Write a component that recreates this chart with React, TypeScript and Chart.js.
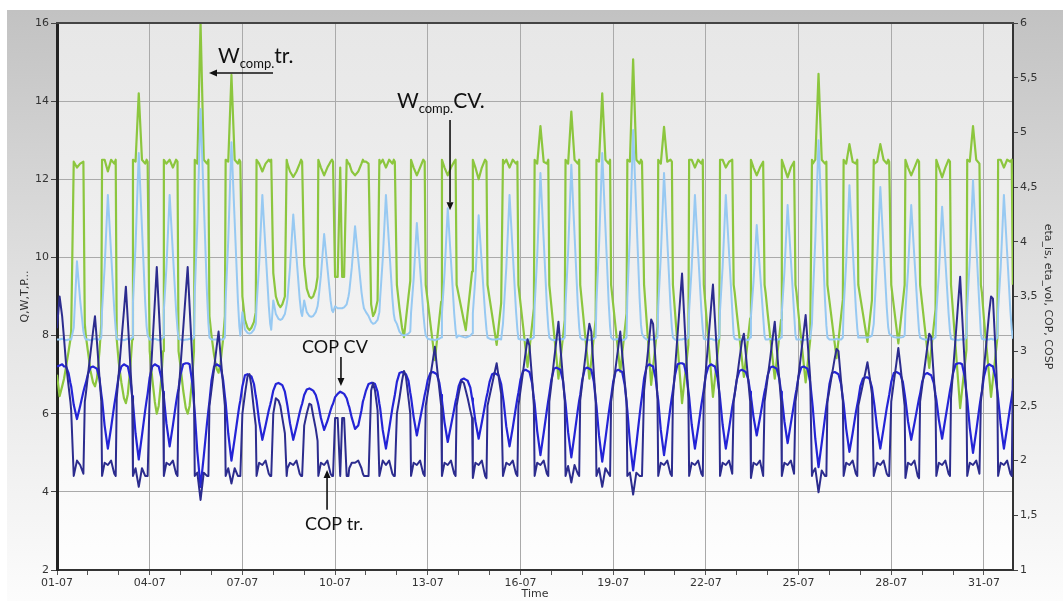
import { useEffect, useRef } from 'react';
import { Chart, registerables } from 'chart.js';

Chart.register(...registerables);

// ---- sampling: every day of July is read at these hours ----
const SAMPLE_HOURS = [0, 2, 4, 5.5, 7, 9, 10.4, 11, 13, 15.5, 18, 20.5, 21.6, 22.4];
const DAY_COUNT = 31;
const X_MAX = 30.94;

// x tick labels (one every 3 days)
const DATE_LABELS = ['01-07', '04-07', '07-07', '10-07', '13-07', '16-07', '19-07', '22-07', '25-07', '28-07', '31-07'];
// right axis tick labels (decimal comma)
const RIGHT_TICK_LABELS = ['1', '1,5', '2', '2,5', '3', '3,5', '4', '4,5', '5', '5,5', '6'];

// W_comp tr. (left axis), one row per day
const W_COMP_TR = [
  7.0, 6.45, 6.7, 6.9, 7.2, 7.6, 7.9, 8.1, 12.45, 12.3, 12.4, 12.45, 8.3, 8.0,
  7.6, 7.1, 6.8, 6.7, 6.9, 7.6, 8.3, 12.5, 12.5, 12.2, 12.5, 12.4, 12.5, 7.9,
  7.3, 6.8, 6.4, 6.27, 6.5, 7.2, 7.9, 12.5, 12.45, 14.2, 12.5, 12.4, 12.5, 12.45,
  7.6, 6.9, 6.3, 6.0, 6.2, 6.9, 7.6, 12.5, 12.4, 12.5, 12.3, 12.5, 12.45, 7.6,
  7.2, 6.6, 6.15, 6.0, 6.2, 6.9, 7.6, 12.5, 12.4, 16.0, 12.5, 12.4, 12.5, 8.5,
  8.0, 7.5, 7.15, 7.05, 7.3, 7.9, 8.5, 12.5, 12.45, 14.67, 12.5, 12.4, 12.5, 12.45,
  9.0, 8.4, 8.2, 8.14, 8.2, 8.35, 8.6, 12.5, 12.4, 12.2, 12.4, 12.5, 12.45, 12.5,
  9.6, 9.0, 8.8, 8.73, 8.8, 9.0, 12.5, 12.4, 12.2, 12.06, 12.2, 12.4, 12.5, 12.45,
  9.8, 9.2, 9.0, 8.96, 9.0, 9.2, 9.5, 12.5, 12.3, 12.1, 12.3, 12.45, 12.5, 12.45,
  9.5, 9.5, 12.3, 9.5, 9.5, 12.5, 12.4, 12.4, 12.2, 12.1, 12.2, 12.4, 12.5, 12.45,
  12.45, 12.4, 8.8, 8.5, 8.6, 8.9, 12.5, 12.4, 12.5, 12.3, 12.5, 12.4, 12.5, 12.45,
  9.3, 8.7, 8.2, 7.96, 8.4, 9.0, 9.4, 12.5, 12.3, 12.1, 12.3, 12.5, 12.45, 9.3,
  8.87, 8.32, 7.78, 7.37, 7.83, 8.44, 8.87, 12.5, 12.3, 12.1, 12.3, 12.45, 12.5, 9.3,
  9.04, 8.71, 8.38, 8.14, 8.6, 9.2, 9.64, 12.5, 12.3, 12.0, 12.3, 12.5, 12.45, 9.3,
  8.95, 8.52, 8.08, 7.76, 8.22, 8.83, 12.5, 12.4, 12.5, 12.3, 12.5, 12.4, 12.45, 9.3,
  8.83, 8.24, 7.64, 7.2, 7.66, 8.27, 8.7, 12.5, 12.4, 13.36, 12.45, 12.4, 12.5, 9.3,
  8.76, 8.08, 7.41, 6.9, 7.36, 7.97, 8.4, 12.5, 12.4, 13.73, 12.5, 12.4, 12.5, 9.3,
  8.76, 8.08, 7.41, 6.9, 7.36, 7.97, 8.4, 12.5, 12.45, 14.2, 12.5, 12.4, 12.5, 9.3,
  8.8, 8.17, 7.54, 7.07, 7.53, 8.14, 8.57, 12.5, 12.45, 15.07, 12.5, 12.4, 12.5, 12.45,
  9.3, 8.37, 7.44, 6.74, 7.2, 7.81, 8.24, 12.5, 12.4, 13.34, 12.45, 12.5, 12.45, 9.3,
  8.62, 7.76, 6.91, 6.27, 6.73, 7.34, 7.77, 12.5, 12.5, 12.3, 12.5, 12.4, 12.5, 9.3,
  8.65, 7.84, 7.04, 6.43, 6.89, 7.5, 7.93, 12.5, 12.5, 12.3, 12.45, 12.5, 9.3, 9.1,
  8.58, 7.99, 7.39, 6.94, 7.4, 8.01, 8.44, 12.5, 12.3, 12.1, 12.3, 12.45, 9.3, 9.1,
  8.57, 7.96, 7.36, 6.9, 7.36, 7.97, 8.4, 12.5, 12.3, 12.05, 12.3, 12.45, 9.3, 9.1,
  8.54, 7.91, 7.28, 6.8, 7.26, 7.87, 12.5, 12.4, 12.5, 14.7, 12.5, 12.4, 12.45, 9.3,
  8.88, 8.35, 7.82, 7.42, 7.88, 8.49, 8.92, 12.5, 12.4, 12.9, 12.45, 12.4, 12.5, 9.3,
  8.97, 8.56, 8.15, 7.84, 8.3, 8.91, 12.5, 12.4, 12.45, 12.9, 12.5, 12.4, 12.5, 12.45,
  9.3, 8.75, 8.21, 7.8, 8.26, 8.87, 9.3, 12.5, 12.3, 12.1, 12.3, 12.5, 12.45, 9.3,
  8.82, 8.22, 7.62, 7.17, 7.63, 8.24, 8.67, 12.5, 12.3, 12.05, 12.3, 12.5, 12.45, 9.3,
  8.59, 7.7, 6.81, 6.14, 6.6, 7.21, 7.64, 12.5, 12.45, 13.36, 12.5, 12.4, 9.3, 9.1,
  8.43, 7.7, 6.98, 6.43, 6.89, 7.5, 7.93, 12.5, 12.5, 12.3, 12.5, 12.45, 12.5, 9.3,
];

// W_comp CV. (left axis)
const W_COMP_CV = [
  7.9, 7.9, 7.92, 7.9, 7.88, 7.9, 7.9, 7.9, 8.2, 9.9, 8.9, 8.1, 7.95, 7.9,
  7.9, 7.88, 7.9, 7.92, 7.9, 7.9, 7.95, 8.64, 9.75, 11.6, 10.12, 8.64, 8.16, 7.92,
  7.9, 7.9, 7.88, 7.9, 7.92, 7.9, 7.95, 8.85, 10.29, 12.67, 10.76, 8.85, 8.23, 8.0,
  7.9, 7.9, 7.92, 7.9, 7.88, 7.9, 7.95, 8.64, 9.75, 11.6, 10.12, 8.64, 8.16, 7.92,
  7.9, 7.88, 7.9, 7.9, 7.92, 7.9, 7.95, 9.08, 10.85, 13.8, 11.44, 9.08, 8.31, 7.95,
  7.9, 7.9, 7.9, 7.92, 7.9, 7.9, 7.95, 8.91, 10.43, 12.95, 10.93, 8.91, 8.25, 8.0,
  8.6, 8.15, 8.07, 8.05, 8.07, 8.15, 8.3, 8.76, 9.83, 11.6, 10.18, 8.76, 8.3, 8.15,
  8.9, 8.55, 8.43, 8.4, 8.43, 8.55, 8.8, 8.94, 9.75, 11.1, 10.02, 8.94, 8.6, 8.5,
  8.9, 8.6, 8.5, 8.48, 8.5, 8.6, 8.75, 8.9, 9.54, 10.6, 9.75, 8.9, 8.65, 8.6,
  8.75, 8.7, 8.7, 8.7, 8.72, 8.8, 9.0, 9.12, 9.75, 10.8, 9.96, 9.12, 8.85, 8.7,
  8.6, 8.5, 8.35, 8.3, 8.32, 8.4, 8.6, 8.96, 9.95, 11.6, 10.28, 8.96, 8.55, 8.4,
  8.3, 8.1, 8.02, 8.0, 8.02, 8.05, 8.1, 8.58, 9.44, 10.88, 9.73, 8.58, 8.2, 8.0,
  7.92, 7.9, 7.9, 7.88, 7.9, 7.92, 7.95, 8.57, 9.58, 11.26, 9.92, 8.57, 8.14, 7.95,
  8.0, 7.98, 7.96, 7.95, 7.97, 8.0, 8.05, 8.57, 9.5, 11.08, 9.8, 8.57, 8.15, 7.95,
  7.92, 7.9, 7.9, 7.9, 7.92, 7.9, 8.3, 8.64, 9.75, 11.6, 10.12, 8.64, 8.16, 7.92,
  7.9, 7.9, 7.88, 7.9, 7.9, 7.92, 7.95, 8.75, 10.03, 12.16, 10.46, 8.75, 8.2, 7.95,
  7.9, 7.88, 7.9, 7.9, 7.92, 7.9, 7.95, 8.79, 10.14, 12.37, 10.58, 8.79, 8.21, 7.95,
  7.9, 7.9, 7.9, 7.88, 7.9, 7.92, 7.95, 8.85, 10.29, 12.67, 10.76, 8.85, 8.23, 7.95,
  7.9, 7.9, 7.92, 7.9, 7.88, 7.9, 7.95, 8.97, 10.58, 13.26, 11.12, 8.97, 8.28, 8.05,
  7.95, 7.9, 7.9, 7.9, 7.9, 7.92, 7.95, 8.75, 10.03, 12.16, 10.46, 8.75, 8.2, 7.95,
  7.9, 7.88, 7.9, 7.9, 7.92, 7.9, 7.95, 8.64, 9.75, 11.6, 10.12, 8.64, 8.16, 7.92,
  7.9, 7.9, 7.92, 7.9, 7.88, 7.9, 7.95, 8.64, 9.75, 11.6, 10.12, 8.64, 8.0, 7.92,
  7.9, 7.9, 7.9, 7.92, 7.9, 7.88, 7.95, 8.49, 9.37, 10.83, 9.66, 8.49, 7.98, 7.9,
  7.9, 7.92, 7.9, 7.9, 7.9, 7.9, 7.95, 8.59, 9.62, 11.34, 9.96, 8.59, 8.0, 7.9,
  7.9, 7.9, 7.88, 7.9, 7.9, 7.92, 8.3, 8.92, 10.45, 13.0, 10.96, 8.92, 8.26, 7.95,
  7.9, 7.9, 7.9, 7.92, 7.9, 7.9, 7.95, 8.69, 9.88, 11.85, 10.27, 8.69, 8.18, 7.95,
  7.95, 7.95, 7.95, 7.95, 7.96, 8.0, 8.3, 8.72, 9.88, 11.8, 10.26, 8.72, 8.22, 8.05,
  8.0, 7.96, 7.95, 7.95, 7.95, 7.96, 8.0, 8.63, 9.65, 11.34, 9.98, 8.63, 8.1, 7.95,
  7.92, 7.9, 7.9, 7.9, 7.9, 7.92, 7.95, 8.58, 9.6, 11.3, 9.94, 8.58, 8.1, 7.92,
  7.9, 7.9, 7.88, 7.9, 7.9, 7.9, 7.95, 8.72, 9.94, 11.98, 10.35, 8.72, 8.05, 7.92,
  7.9, 7.9, 7.9, 7.92, 7.9, 7.9, 7.95, 8.64, 9.75, 11.6, 10.12, 8.64, 8.16, 7.92,
];

// COP CV (right axis)
const COP_CV = [
  2.86, 2.87, 2.88, 2.86, 2.86, 2.8, 2.71, 2.68, 2.51, 2.38, 2.5, 2.63, 2.68, 2.71,
  2.79, 2.85, 2.86, 2.85, 2.84, 2.75, 2.61, 2.56, 2.32, 2.11, 2.3, 2.51, 2.59, 2.65,
  2.78, 2.86, 2.88, 2.87, 2.86, 2.75, 2.59, 2.53, 2.25, 2.01, 2.23, 2.46, 2.55, 2.61,
  2.76, 2.86, 2.88, 2.87, 2.86, 2.76, 2.63, 2.58, 2.34, 2.13, 2.32, 2.53, 2.61, 2.66,
  2.79, 2.88, 2.89, 2.89, 2.88, 2.72, 2.52, 2.44, 2.08, 1.76, 2.04, 2.34, 2.46, 2.54,
  2.73, 2.86, 2.88, 2.87, 2.86, 2.74, 2.59, 2.53, 2.25, 2.0, 2.2, 2.41, 2.5, 2.55,
  2.68, 2.78, 2.79, 2.78, 2.77, 2.7, 2.59, 2.55, 2.36, 2.19, 2.32, 2.46, 2.51, 2.55,
  2.64, 2.7, 2.71, 2.7, 2.69, 2.63, 2.54, 2.5, 2.34, 2.19, 2.31, 2.44, 2.49, 2.52,
  2.6, 2.65, 2.66, 2.65, 2.64, 2.6, 2.54, 2.51, 2.39, 2.28, 2.36, 2.46, 2.5, 2.52,
  2.58, 2.61, 2.63, 2.62, 2.61, 2.57, 2.51, 2.49, 2.39, 2.29, 2.32, 2.46, 2.54, 2.57,
  2.64, 2.7, 2.71, 2.71, 2.7, 2.63, 2.52, 2.48, 2.28, 2.11, 2.29, 2.48, 2.55, 2.6,
  2.72, 2.8, 2.81, 2.8, 2.79, 2.73, 2.62, 2.58, 2.4, 2.23, 2.38, 2.53, 2.6, 2.64,
  2.74, 2.8, 2.81, 2.8, 2.79, 2.71, 2.6, 2.55, 2.35, 2.17, 2.32, 2.47, 2.54, 2.58,
  2.68, 2.74, 2.75, 2.74, 2.73, 2.67, 2.57, 2.53, 2.36, 2.2, 2.35, 2.51, 2.58, 2.62,
  2.72, 2.79, 2.8, 2.79, 2.78, 2.7, 2.58, 2.53, 2.31, 2.13, 2.3, 2.49, 2.57, 2.62,
  2.74, 2.82, 2.83, 2.82, 2.81, 2.71, 2.57, 2.52, 2.27, 2.05, 2.25, 2.46, 2.55, 2.61,
  2.74, 2.84, 2.85, 2.84, 2.83, 2.73, 2.58, 2.52, 2.26, 2.03, 2.24, 2.46, 2.55, 2.6,
  2.74, 2.84, 2.85, 2.84, 2.83, 2.72, 2.56, 2.5, 2.23, 1.99, 2.2, 2.43, 2.52, 2.58,
  2.72, 2.82, 2.83, 2.82, 2.81, 2.69, 2.53, 2.46, 2.17, 1.91, 2.15, 2.41, 2.52, 2.59,
  2.75, 2.86, 2.88, 2.87, 2.86, 2.75, 2.6, 2.55, 2.28, 2.05, 2.26, 2.49, 2.58, 2.64,
  2.78, 2.88, 2.89, 2.89, 2.88, 2.78, 2.64, 2.58, 2.33, 2.11, 2.3, 2.51, 2.59, 2.65,
  2.78, 2.86, 2.88, 2.87, 2.86, 2.76, 2.63, 2.57, 2.33, 2.11, 2.29, 2.49, 2.56, 2.61,
  2.74, 2.82, 2.83, 2.82, 2.81, 2.74, 2.63, 2.59, 2.4, 2.23, 2.39, 2.56, 2.63, 2.67,
  2.78, 2.85, 2.86, 2.85, 2.84, 2.75, 2.63, 2.58, 2.36, 2.16, 2.34, 2.52, 2.6, 2.65,
  2.77, 2.85, 2.86, 2.85, 2.84, 2.72, 2.56, 2.49, 2.2, 1.94, 2.16, 2.39, 2.49, 2.55,
  2.7, 2.8, 2.81, 2.8, 2.79, 2.7, 2.57, 2.52, 2.29, 2.08, 2.25, 2.44, 2.51, 2.56,
  2.68, 2.75, 2.76, 2.76, 2.75, 2.67, 2.55, 2.5, 2.3, 2.11, 2.29, 2.48, 2.55, 2.6,
  2.72, 2.8, 2.81, 2.8, 2.79, 2.72, 2.61, 2.56, 2.36, 2.19, 2.34, 2.5, 2.57, 2.61,
  2.72, 2.79, 2.8, 2.79, 2.78, 2.71, 2.6, 2.56, 2.37, 2.2, 2.38, 2.56, 2.64, 2.69,
  2.8, 2.88, 2.89, 2.89, 2.88, 2.77, 2.62, 2.56, 2.3, 2.07, 2.27, 2.49, 2.58, 2.63,
  2.77, 2.86, 2.88, 2.87, 2.86, 2.76, 2.63, 2.57, 2.33, 2.11, 2.3, 2.5, 2.58, 2.64,
];

// COP tr. (right axis)
const COP_TR = [
  3.21, 3.5, 3.32, 3.11, 2.89, 2.68, 2.54, 2.46, 1.86, 2.0, 1.96, 1.88, 2.54, 2.61,
  2.78, 2.98, 3.18, 3.32, 3.09, 2.76, 2.54, 1.86, 1.98, 1.96, 2.0, 1.88, 1.86, 2.57,
  2.8, 3.09, 3.37, 3.59, 3.28, 2.86, 2.57, 1.86, 1.93, 1.76, 1.93, 1.86, 1.86, 1.86,
  2.61, 3.03, 3.45, 3.77, 3.41, 2.94, 2.61, 1.86, 1.98, 1.96, 2.0, 1.88, 1.86, 2.61,
  2.87, 3.2, 3.53, 3.77, 3.41, 2.94, 2.61, 1.86, 1.89, 1.64, 1.89, 1.86, 1.86, 2.5,
  2.65, 2.84, 3.04, 3.18, 2.97, 2.69, 2.5, 1.86, 1.93, 1.79, 1.93, 1.86, 1.86, 1.86,
  2.43, 2.61, 2.77, 2.79, 2.68, 2.46, 2.32, 1.86, 1.98, 1.96, 2.0, 1.88, 1.86, 1.86,
  2.43, 2.57, 2.55, 2.5, 2.39, 2.25, 1.86, 1.93, 1.98, 1.96, 2.0, 1.88, 1.86, 1.86,
  2.32, 2.43, 2.52, 2.51, 2.41, 2.29, 2.18, 1.86, 1.98, 1.96, 2.0, 1.88, 1.86, 1.86,
  2.39, 2.39, 1.86, 2.39, 2.39, 1.86, 1.86, 1.93, 1.98, 1.98, 2.0, 1.93, 1.88, 1.86,
  1.86, 1.86, 2.64, 2.71, 2.64, 2.46, 1.86, 1.89, 2.0, 1.96, 2.0, 1.88, 1.86, 1.86,
  2.43, 2.57, 2.73, 2.82, 2.77, 2.57, 2.43, 1.86, 1.98, 1.96, 2.0, 1.88, 1.86, 2.5,
  2.62, 2.77, 2.92, 3.04, 2.87, 2.65, 2.5, 1.86, 1.98, 1.96, 2.0, 1.88, 1.86, 2.5,
  2.61, 2.73, 2.71, 2.64, 2.57, 2.46, 2.39, 1.84, 1.98, 1.96, 2.0, 1.86, 1.84, 2.5,
  2.59, 2.7, 2.81, 2.89, 2.77, 2.61, 1.86, 1.89, 1.98, 1.96, 2.0, 1.88, 1.86, 2.5,
  2.64, 2.81, 2.99, 3.11, 3.05, 2.75, 2.5, 1.86, 1.98, 1.96, 2.0, 1.88, 1.86, 2.54,
  2.7, 2.91, 3.11, 3.27, 3.04, 2.75, 2.54, 1.86, 1.95, 1.8, 1.96, 1.88, 1.86, 2.55,
  2.71, 2.91, 3.12, 3.25, 3.18, 2.79, 2.55, 1.86, 1.93, 1.76, 1.93, 1.88, 1.86, 2.54,
  2.68, 2.86, 3.04, 3.18, 2.98, 2.72, 2.54, 1.86, 1.89, 1.69, 1.89, 1.86, 1.86, 1.86,
  2.64, 2.88, 3.11, 3.29, 3.25, 2.89, 2.57, 1.86, 1.98, 1.96, 2.0, 1.88, 1.86, 2.57,
  2.83, 3.15, 3.47, 3.71, 3.36, 2.9, 2.57, 1.86, 1.98, 1.96, 2.0, 1.88, 1.86, 2.61,
  2.83, 3.11, 3.4, 3.61, 3.3, 2.89, 2.61, 1.86, 1.98, 1.96, 2.0, 1.88, 2.54, 2.61,
  2.74, 2.92, 3.09, 3.16, 2.98, 2.72, 2.54, 1.84, 1.98, 1.96, 2.0, 1.86, 2.54, 2.61,
  2.76, 2.94, 3.13, 3.27, 3.04, 2.75, 2.54, 1.86, 1.98, 1.96, 2.0, 1.88, 2.54, 2.61,
  2.78, 2.98, 3.18, 3.33, 3.09, 2.76, 1.86, 1.89, 1.93, 1.71, 1.91, 1.86, 1.86, 2.54,
  2.65, 2.79, 2.93, 3.02, 3.0, 2.73, 2.54, 1.86, 1.98, 1.96, 2.0, 1.88, 1.86, 2.5,
  2.59, 2.7, 2.81, 2.9, 2.78, 2.61, 1.86, 1.89, 1.98, 1.96, 2.0, 1.88, 1.86, 1.86,
  2.54, 2.72, 2.89, 3.03, 2.88, 2.66, 2.5, 1.84, 1.98, 1.96, 2.0, 1.86, 1.84, 2.54,
  2.68, 2.86, 3.04, 3.16, 3.13, 2.77, 2.54, 1.86, 1.98, 1.96, 2.0, 1.88, 1.86, 2.57,
  2.82, 3.13, 3.45, 3.68, 3.34, 2.89, 2.57, 1.86, 1.98, 1.96, 2.0, 1.88, 2.54, 2.63,
  2.84, 3.09, 3.35, 3.5, 3.48, 3.0, 2.61, 1.86, 1.98, 1.96, 2.0, 1.88, 1.86, 2.75,
];

// annotation labels, anchored in data units (x: days since 01-07, y: left axis)
const NOTES = [
  { main: 'W', sub: 'comp.', tail: 'tr.', x: 5.21, y: 14.98 },
  { main: 'W', sub: 'comp.', tail: 'CV.', x: 11.0, y: 13.82 },
  { main: 'COP CV', sub: '', tail: '', x: 7.93, y: 7.55 },
  { main: 'COP tr.', sub: '', tail: '', x: 8.03, y: 3.02 },
];
const ARROWS = [
  { x1: 6.99, y1: 14.72, x2: 4.92, y2: 14.72 },
  { x1: 12.72, y1: 13.52, x2: 12.72, y2: 11.21 },
  { x1: 9.19, y1: 7.45, x2: 9.19, y2: 6.71 },
  { x1: 8.74, y1: 3.54, x2: 8.74, y2: 4.56 },
];

const TIMES = Array.from({ length: DAY_COUNT * SAMPLE_HOURS.length }, (_, i) =>
  Math.floor(i / SAMPLE_HOURS.length) + SAMPLE_HOURS[i % SAMPLE_HOURS.length] / 24,
);
const DAY_TICKS = Array.from({ length: DAY_COUNT }, (_, i) => i);
const zip = (vals: number[]) => vals.map((v, i) => ({ x: TIMES[i], y: v }));

const TICK_FONT = { family: '"DejaVu Sans", Verdana, sans-serif', size: 11 };
const TICK_COLOR = '#333333';
const GRID = '#aaaaaa';
const NOTE_FONT = 'Lato, "Open Sans", sans-serif';

const framePlugin = {
  id: 'frame',
  beforeDraw(chart: any) {
    const { ctx, width, height, chartArea: a } = chart;
    ctx.save();
    ctx.fillStyle = '#ffffff';
    ctx.fillRect(0, 0, width, height);
    const g = ctx.createLinearGradient(0, 10, 0, height);
    g.addColorStop(0, '#c2c2c2');
    g.addColorStop(0.5, '#e3e3e3');
    g.addColorStop(1, '#fcfcfc');
    ctx.fillStyle = g;
    ctx.fillRect(7, 10, width - 7, height - 10);
    const pg = ctx.createLinearGradient(0, a.top, 0, a.bottom);
    pg.addColorStop(0, '#e7e7e7');
    pg.addColorStop(0.5, '#f1f1f1');
    pg.addColorStop(1, '#fefefe');
    ctx.fillStyle = pg;
    ctx.fillRect(a.left, a.top, a.right - a.left, a.bottom - a.top);
    ctx.restore();
  },
  afterDraw(chart: any) {
    const { ctx, chartArea: a, scales } = chart;
    const sx = scales.x;
    const sy = scales.y;
    ctx.save();
    // top frame line
    ctx.strokeStyle = '#444444';
    ctx.lineWidth = 2;
    ctx.beginPath();
    ctx.moveTo(a.left - 1, a.top);
    ctx.lineTo(a.right + 1, a.top);
    ctx.stroke();

    // annotation texts
    ctx.fillStyle = '#111111';
    ctx.textBaseline = 'alphabetic';
    ctx.textAlign = 'left';
    NOTES.forEach((n) => {
      let px = sx.getPixelForValue(n.x);
      const py = sy.getPixelForValue(n.y);
      const big = n.sub ? 21 : 18;
      ctx.font = `${big}px ${NOTE_FONT}`;
      ctx.fillText(n.main, px, py);
      px += ctx.measureText(n.main).width;
      if (n.sub) {
        ctx.font = `13px ${NOTE_FONT}`;
        ctx.fillText(n.sub, px, py + 5);
        px += ctx.measureText(n.sub).width;
      }
      if (n.tail) {
        ctx.font = `${big}px ${NOTE_FONT}`;
        ctx.fillText(n.tail, px, py);
      }
    });

    // arrows
    ctx.strokeStyle = '#111111';
    ctx.lineWidth = 1.6;
    ARROWS.forEach((r) => {
      const x1 = sx.getPixelForValue(r.x1);
      const y1 = sy.getPixelForValue(r.y1);
      const x2 = sx.getPixelForValue(r.x2);
      const y2 = sy.getPixelForValue(r.y2);
      const ang = Math.atan2(y2 - y1, x2 - x1);
      const len = 8;
      const bx = x2 - len * Math.cos(ang);
      const by = y2 - len * Math.sin(ang);
      ctx.beginPath();
      ctx.moveTo(x1, y1);
      ctx.lineTo(bx, by);
      ctx.stroke();
      ctx.beginPath();
      ctx.moveTo(x2, y2);
      ctx.lineTo(bx + 3.5 * Math.sin(ang), by - 3.5 * Math.cos(ang));
      ctx.lineTo(bx - 3.5 * Math.sin(ang), by + 3.5 * Math.cos(ang));
      ctx.closePath();
      ctx.fill();
    });
    ctx.restore();
  },
};

export default function App() {
  const canvasRef = useRef<HTMLCanvasElement | null>(null);

  useEffect(() => {
    if (!canvasRef.current) return;
    const chart = new Chart(canvasRef.current, {
      type: 'line',
      data: {
        datasets: [
          {
            label: 'COP tr.',
            data: zip(COP_TR),
            yAxisID: 'y1',
            borderColor: '#2c2c8e',
            borderWidth: 2,
            order: 1,
          },
          {
            label: 'COP CV',
            data: zip(COP_CV),
            yAxisID: 'y1',
            borderColor: '#2424d6',
            borderWidth: 2.2,
            order: 2,
          },
          {
            label: 'W_comp CV.',
            data: zip(W_COMP_CV),
            yAxisID: 'y',
            borderColor: '#97c9f2',
            borderWidth: 2,
            order: 3,
          },
          {
            label: 'W_comp tr.',
            data: zip(W_COMP_TR),
            yAxisID: 'y',
            borderColor: '#8cc63e',
            borderWidth: 2.2,
            order: 4,
          },
        ],
      },
      options: {
        animation: false,
        responsive: false,
        devicePixelRatio: 1,
        events: [],
        layout: { padding: { top: 23, left: 0, right: 0, bottom: 0 } },
        elements: {
          point: { radius: 0 },
          line: { tension: 0, fill: false, borderJoinStyle: 'round' },
        },
        plugins: {
          legend: { display: false },
          tooltip: { enabled: false },
        },
        scales: {
          x: {
            type: 'linear',
            min: 0,
            max: X_MAX,
            afterBuildTicks: (scale: any) => {
              scale.ticks = DAY_TICKS.map((v) => ({ value: v }));
            },
            afterFit: (scale: any) => {
              scale.height = 31;
            },
            ticks: {
              autoSkip: false,
              maxRotation: 0,
              minRotation: 0,
              padding: 2,
              font: TICK_FONT,
              color: TICK_COLOR,
              callback: (v: any) => (Number(v) % 3 === 0 ? DATE_LABELS[Number(v) / 3] : ''),
            },
            grid: {
              color: (c: any) => (c.tick && c.tick.value % 3 === 0 ? GRID : 'rgba(0,0,0,0)'),
              tickColor: '#555555',
              tickLength: 5,
            },
            border: { color: '#333333', width: 2 },
            title: {
              display: true,
              text: 'Time',
              color: '#333333',
              font: TICK_FONT,
              padding: { top: 0, bottom: 0 },
            },
          },
          y: {
            position: 'left',
            min: 2,
            max: 16,
            afterFit: (scale: any) => {
              scale.width = 57;
            },
            ticks: { stepSize: 2, padding: 2, font: TICK_FONT, color: TICK_COLOR },
            grid: { color: GRID, tickColor: '#444444', tickLength: 6 },
            border: { color: '#222222', width: 3 },
            title: {
              display: true,
              text: 'Q,W,T,P...',
              color: '#333333',
              font: TICK_FONT,
              padding: { top: 19, bottom: 0 },
            },
          },
          y1: {
            position: 'right',
            min: 1,
            max: 6,
            afterFit: (scale: any) => {
              scale.width = 50;
            },
            ticks: {
              stepSize: 0.5,
              padding: 2,
              font: TICK_FONT,
              color: TICK_COLOR,
              callback: (v: any) => RIGHT_TICK_LABELS[Math.round((Number(v) - 1) * 2)],
            },
            grid: { drawOnChartArea: false, tickColor: '#444444', tickLength: 5 },
            border: { color: '#333333', width: 2 },
            title: {
              display: true,
              text: 'eta_is, eta_vol, COP, COSP',
              color: '#333333',
              font: TICK_FONT,
              padding: { top: 9, bottom: 0 },
            },
          },
        },
      } as any,
      plugins: [framePlugin],
    });
    return () => chart.destroy();
  }, []);

  return (
    <div style={{ position: 'fixed', left: 0, top: 0, width: 1063, height: 601 }}>
      <canvas ref={canvasRef} width={1063} height={601} style={{ width: 1063, height: 601 }} />
    </div>
  );
}
